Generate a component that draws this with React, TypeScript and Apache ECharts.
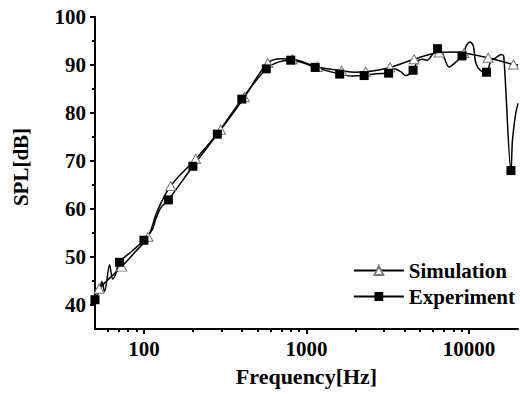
import { useEffect, useRef } from 'react';
import * as echarts from 'echarts';

// Simulation: points with triangle markers
const simMarkFreq = [53, 73, 106, 146, 208, 296, 415, 578, 820, 1165, 1645, 2315, 3265, 4590, 6550, 9300, 13100, 18750];
const simMarkSPL = [43.4, 48.0, 54.2, 64.8, 70.4, 76.5, 83.3, 90.4, 91.2, 89.6, 88.8, 88.6, 89.5, 91.2, 92.6, 92.5, 91.5, 90.1];
// Simulation: extra curve points without markers
const simLineFreq = [50, 88, 121, 700, 2000, 7800, 20000];
const simLineSPL = [42.0, 51.0, 59.6, 91.3, 88.5, 92.7, 90.0];

// Experiment: points with square markers
const expMarkFreq = [50, 70.7, 100, 141.4, 200, 282.8, 400, 565.7, 800, 1131, 1600, 2263, 3200, 4525, 6400, 9051, 12800, 18102];
const expMarkSPL = [41.1, 48.9, 53.5, 61.9, 68.9, 75.6, 82.9, 89.2, 91.0, 89.5, 88.1, 87.8, 88.3, 88.9, 93.4, 91.9, 88.5, 68.0];
// Experiment: extra curve points without markers
const expLineFreq = [53.4, 55.1, 57.3, 61.5, 64.2, 66.7, 85, 112.6, 118, 126.6, 670, 960, 1900, 2700, 3455, 3800, 4080, 4814, 5167, 5546, 5812, 6860, 7534, 8166, 9680, 10140, 10640, 11000, 11800, 13600, 14600, 15830, 16350, 18500, 19390, 20000];
const expLineSPL = [43.2, 44.9, 42.8, 48.4, 45.4, 46.3, 51.3, 55.7, 57.8, 60.2, 90.6, 90.4, 87.7, 88.2, 89.2, 88.6, 87.8, 90.75, 91.2, 91.0, 91.7, 92.4, 89.6, 90.4, 94.2, 94.8, 93.9, 90.4, 88.8, 90.8, 91.5, 92.2, 91.8, 74.4, 80.0, 82.0];

const xMajorTicks = [100, 1000, 10000];
const xMinorTicks = [60, 70, 80, 90, 200, 300, 400, 500, 600, 700, 800, 900, 2000, 3000, 4000, 5000, 6000, 7000, 8000, 9000];
const yMajorTicks = [40, 50, 60, 70, 80, 90, 100];
const yMinorTicks = [45, 55, 65, 75, 85, 95];

function buildData(mf: number[], ms: number[], lf: number[], ls: number[]) {
  const pts: { value: number[]; symbol?: string }[] = [];
  mf.forEach((f, i) => pts.push({ value: [f, ms[i]] }));
  lf.forEach((f, i) => pts.push({ value: [f, ls[i]], symbol: 'none' }));
  pts.sort((a, b) => a.value[0] - b.value[0]);
  return pts;
}

const FONT = 'Liberation Serif';

export default function App() {
  const ref = useRef<HTMLDivElement>(null);
  useEffect(() => {
    if (!ref.current) return;
    const chart = echarts.init(ref.current, undefined, { renderer: 'svg' });
    const axisLine = { show: true, lineStyle: { color: '#000', width: 2 } };
    const labelStyle = { fontFamily: FONT, fontWeight: 'bold' as const, fontSize: 21, color: '#000' };
    chart.setOption({
      animation: false,
      backgroundColor: '#fff',
      grid: { left: 95, right: 2, top: 17, bottom: 65 },
      legend: {
        orient: 'vertical',
        right: 0,
        top: 255,
        itemWidth: 50,
        itemHeight: 11,
        itemGap: 5,
        textStyle: { fontFamily: FONT, fontWeight: 'bold', fontSize: 21, color: '#000' },
        data: ['Simulation', 'Experiment'],
      },
      xAxis: [
        {
          type: 'log',
          logBase: 10,
          min: 50,
          max: 20000,
          position: 'bottom',
          axisLine,
          splitLine: { show: false },
          axisTick: { show: true, length: 5, lineStyle: { width: 2, color: '#000' }, customValues: xMajorTicks },
          axisLabel: { ...labelStyle, margin: 9, customValues: xMajorTicks, formatter: (v: number) => String(v) },
          name: 'Frequency[Hz]',
          nameLocation: 'middle',
          nameGap: 36,
          nameTextStyle: { ...labelStyle, fontSize: 22 },
        },
        {
          type: 'log',
          logBase: 10,
          min: 50,
          max: 20000,
          position: 'bottom',
          axisLine: { show: false },
          splitLine: { show: false },
          axisTick: { show: true, length: 3, lineStyle: { width: 2, color: '#000' }, customValues: xMinorTicks },
          axisLabel: { show: false },
        },
      ],
      yAxis: [
        {
          type: 'value',
          min: 35,
          max: 100,
          position: 'left',
          axisLine,
          splitLine: { show: false },
          axisTick: { show: true, length: 5, lineStyle: { width: 2, color: '#000' }, customValues: yMajorTicks },
          axisLabel: { ...labelStyle, margin: 9, customValues: yMajorTicks },
          name: 'SPL[dB]',
          nameLocation: 'middle',
          nameGap: 64,
          nameRotate: 90,
          nameTextStyle: { ...labelStyle, fontSize: 21, padding: [0, 0, 0, 12] },
        },
        {
          type: 'value',
          min: 35,
          max: 100,
          position: 'left',
          axisLine: { show: false },
          splitLine: { show: false },
          axisTick: { show: true, length: 3, lineStyle: { width: 2, color: '#000' }, customValues: yMinorTicks },
          axisLabel: { show: false },
        },
      ],
      series: [
        {
          name: 'Simulation',
          type: 'line',
          xAxisIndex: 0,
          yAxisIndex: 0,
          smooth: 0.4,
          symbol: 'triangle',
          symbolSize: [10, 9],
          lineStyle: { color: '#000', width: 1.5 },
          itemStyle: { color: '#fff', borderColor: '#777', borderWidth: 1 },
          data: buildData(simMarkFreq, simMarkSPL, simLineFreq, simLineSPL),
        },
        {
          name: 'Experiment',
          type: 'line',
          xAxisIndex: 0,
          yAxisIndex: 0,
          smooth: 0.3,
          symbol: 'rect',
          symbolSize: 9,
          lineStyle: { color: '#000', width: 1.5 },
          itemStyle: { color: '#000', borderColor: '#000', borderWidth: 0 },
          data: buildData(expMarkFreq, expMarkSPL, expLineFreq, expLineSPL),
        },
      ],
    });
    return () => chart.dispose();
  }, []);
  return <div ref={ref} style={{ width: 520, height: 394, position: 'absolute', left: 0, top: 0 }} />;
}
